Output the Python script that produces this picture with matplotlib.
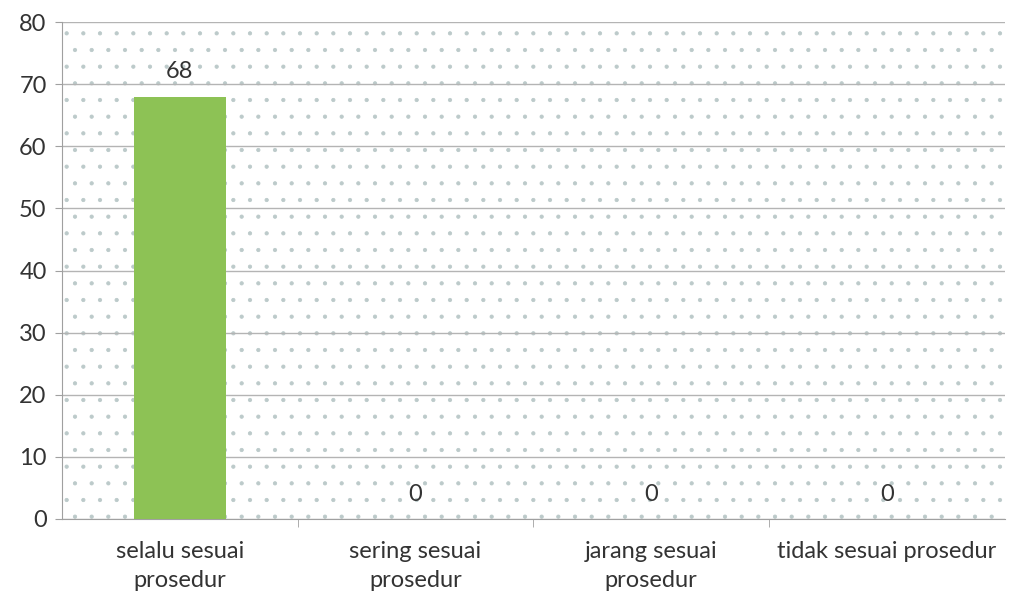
import numpy as np
import matplotlib.pyplot as plt
from matplotlib.patches import Rectangle

categories = ["selalu sesuai\nprosedur", "sering sesuai\nprosedur",
              "jarang sesuai\nprosedur", "tidak sesuai prosedur"]
values = [68, 0, 0, 0]
yticks = [0, 10, 20, 30, 40, 50, 60, 70, 80]

plt.rcParams['font.family'] = ['Lato', 'DejaVu Sans']
plt.rcParams['hatch.linewidth'] = 0.6

fig = plt.figure(figsize=(10.15, 5.99), dpi=100)
ax = fig.add_axes([0.061, 0.1336, 0.929, 0.8296])

# dotted background
bg = Rectangle((0, 0), 1, 1, transform=ax.transAxes, facecolor='white',
               edgecolor='#bccaca', hatch='.', linewidth=0, zorder=0)
ax.add_patch(bg)

x = np.arange(len(categories))
bars = ax.bar(x, values, width=0.39, color='#8dc255', zorder=3)
for xi, v in zip(x, values):
    ax.text(xi, v + 2.3, str(v), ha='center', va='bottom', fontsize=17, color='#333333', zorder=4)

ax.set_xlim(-0.5, 3.5)
ax.set_ylim(0, 80)
ax.set_yticks(yticks)
ax.yaxis.grid(True, color='#b4b4b4', linewidth=1.0, zorder=1)
ax.set_axisbelow(True)

ax.set_xticks(x)
ax.set_xticklabels(categories, fontsize=17, color='#333333', linespacing=1.45)
ax.set_xticks([0.5, 1.5, 2.5], minor=True)
ax.tick_params(axis='x', which='major', length=0, pad=16)
ax.tick_params(axis='x', which='minor', length=6, color='#a0a0a0')
ax.tick_params(axis='y', length=5, color='#a0a0a0', labelsize=17, labelcolor='#333333', pad=6)

for s in ['top', 'right']:
    ax.spines[s].set_visible(False)
for s in ['left', 'bottom']:
    ax.spines[s].set_color('#a0a0a0')

fig.savefig('out.png', dpi=100)
